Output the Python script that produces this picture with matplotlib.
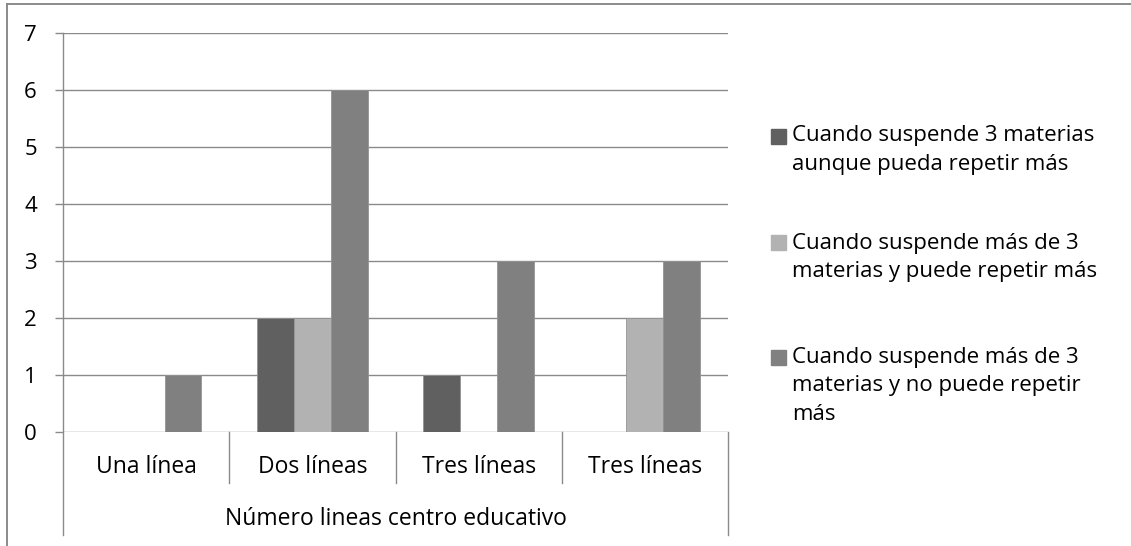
import numpy as np
import matplotlib.pyplot as plt
from matplotlib.patches import Rectangle
from matplotlib.lines import Line2D

plt.rcParams['font.family'] = ['Open Sans', 'DejaVu Sans']

categories = ["Una línea", "Dos líneas", "Tres líneas", "Tres líneas"]
group_label = "Número lineas centro educativo"

series_labels = [
    ["Cuando suspende 3 materias", "aunque pueda repetir más"],
    ["Cuando suspende más de 3", "materias y puede repetir más"],
    ["Cuando suspende más de 3", "materias y no puede repetir", "más"],
]
tres_materias = [0, 2, 1, 0]
mas_de_tres_puede = [0, 2, 0, 2]
mas_de_tres_no_puede = [1, 6, 3, 3]

colors = ['#606060', '#b2b2b2', '#808080']
grid_c = '#8a8a8a'
W, H = 1131, 546


def fx(px):
    return px / W


def fy(py):
    return 1 - py / H


fig = plt.figure(figsize=(W / 100, H / 100), dpi=100)
ax = fig.add_axes([fx(63), fy(432), fx(728 - 63), (432 - 33) / H])

x = np.arange(len(categories))
bw = 0.222
for i, (vals, c) in enumerate(zip([tres_materias, mas_de_tres_puede, mas_de_tres_no_puede], colors)):
    ax.bar(x + (i - 1) * bw, vals, width=bw, color=c, edgecolor='#939393',
           linewidth=0.6, zorder=3)

ax.set_xlim(-0.5, len(categories) - 0.5)
ax.set_ylim(0, 7)
ax.set_yticks(range(8))
ax.yaxis.grid(True, color=grid_c, lw=1.0, zorder=1)
ax.tick_params(axis='y', length=5.8, width=1.0, color=grid_c, pad=13, labelsize=16)
ax.set_xticks([])
for s in ax.spines.values():
    s.set_visible(False)

# category separators below the axis and outer frame of the group label
tr = ax.get_xaxis_transform()
for xs in np.arange(-0.5, len(categories), 1.0):
    outer = xs in (-0.5, len(categories) - 0.5)
    y0 = 1.0 if xs == -0.5 else 0.0
    y1 = -103 / 399 if outer else -51 / 399
    ax.add_line(Line2D([xs, xs], [y0, y1], transform=tr, color=grid_c,
                       lw=1.0, clip_on=False, zorder=2))

for xi, lab in zip(x, categories):
    ax.text(xi, -35 / 399, lab, transform=tr, ha='center', va='center', fontsize=16.5)
ax.text(0.5, -87 / 399, group_label, transform=ax.transAxes, ha='center',
        va='center', fontsize=16.5)

# legend, square aligned with the first line of each entry
first_lines = [136, 243, 357]
pitch = 28.5
for lines, y0, c in zip(series_labels, first_lines, colors):
    fig.patches.append(Rectangle((fx(771), fy(y0 + 7.5)), fx(15), 15 / H,
                                 transform=fig.transFigure, color=c))
    for k, t in enumerate(lines):
        fig.text(fx(792), fy(y0 + k * pitch), t, ha='left', va='center', fontsize=16)

# chart frame
fig.add_artist(Line2D([fx(7), 1], [fy(4), fy(4)], color=grid_c, lw=1.4))
fig.add_artist(Line2D([fx(7), fx(7)], [fy(4), 0], color=grid_c, lw=1.4))

fig.savefig('out.png', dpi=100)
